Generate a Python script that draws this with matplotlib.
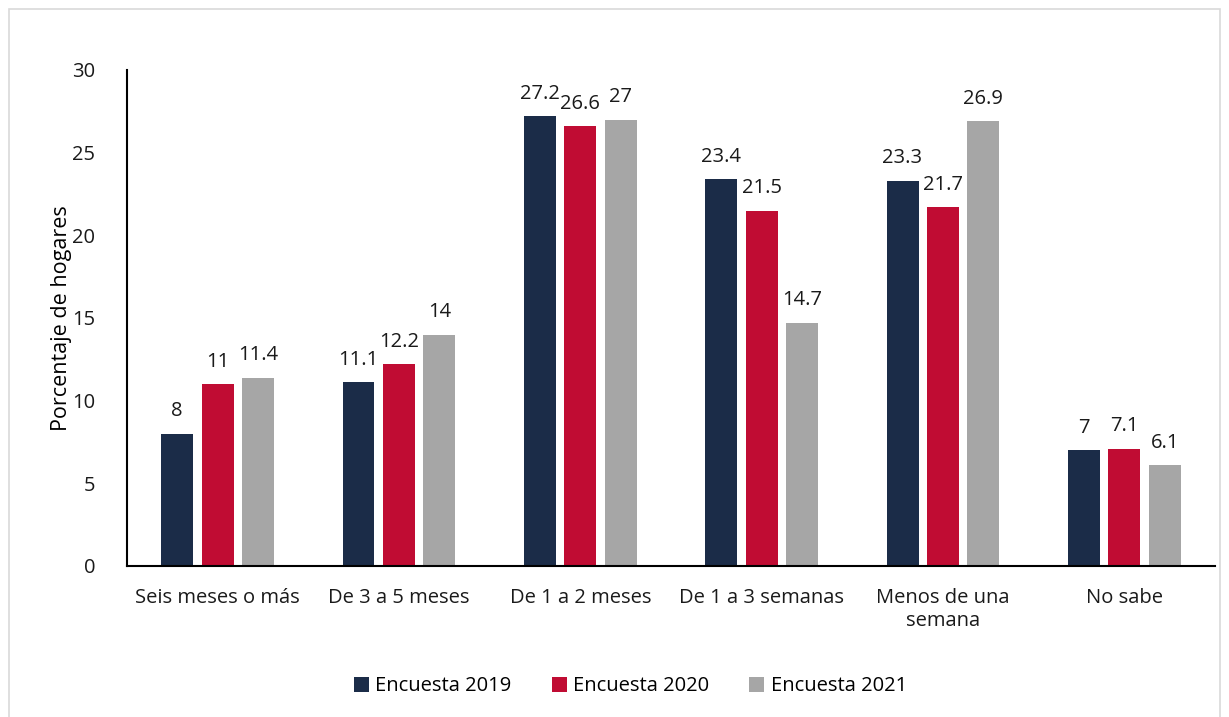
import matplotlib
matplotlib.use("Agg")
import matplotlib.pyplot as plt
from matplotlib.patches import Rectangle
import numpy as np

categorias = ["Seis meses o más", "De 3 a 5 meses", "De 1 a 2 meses",
              "De 1 a 3 semanas", "Menos de una\nsemana", "No sabe"]
encuesta_2019 = [8, 11.1, 27.2, 23.4, 23.3, 7]
encuesta_2020 = [11, 12.2, 26.6, 21.5, 21.7, 7.1]
encuesta_2021 = [11.4, 14, 27, 14.7, 26.9, 6.1]
series = ["Encuesta 2019", "Encuesta 2020", "Encuesta 2021"]
colores = ["#1b2c48", "#c00c33", "#a6a6a6"]

plt.rcParams['font.family'] = ['Open Sans', 'DejaVu Sans']

fig = plt.figure(figsize=(12.29, 7.17), dpi=100)
ax = fig.add_axes([0.1033, 0.2106, 0.8853, 0.6918])

x = np.arange(len(categorias))
paso = 0.223
ancho = 0.176
for i, (vals, nombre, col) in enumerate(zip([encuesta_2019, encuesta_2020, encuesta_2021], series, colores)):
    barras = ax.bar(x + (i - 1) * paso, vals, width=ancho, color=col, label=nombre)
    ax.bar_label(barras, labels=[f"{v:g}" for v in vals], padding=9, fontsize=14.5, color="#1a1a1a")

ax.set_xlim(-0.5, len(categorias) - 0.5)
ax.set_ylim(0, 30)
ax.set_yticks([0, 5, 10, 15, 20, 25, 30])
ax.set_xticks(x)
ax.set_xticklabels(categorias, fontsize=14.5)
ax.tick_params(axis='both', length=0, labelsize=14.5, colors="#1a1a1a")
ax.tick_params(axis='x', pad=16)
ax.tick_params(axis='y', pad=23)
ax.spines['top'].set_visible(False)
ax.spines['right'].set_visible(False)
ax.spines['left'].set_linewidth(1.5)
ax.spines['bottom'].set_linewidth(1.5)
ax.set_ylabel("Porcentaje de hogares", fontsize=15.5, labelpad=0)

fig.legend(loc='center', bbox_to_anchor=(0.513, 0.043), ncol=3, frameon=False,
           fontsize=14.5, handlelength=0.75, handleheight=0.75, handletextpad=0.3, columnspacing=2.0)

fig.patches.append(Rectangle((0.0075, -0.01), 0.985, 0.997, transform=fig.transFigure,
                             fill=False, edgecolor="#d9d9d9", linewidth=1.2))

fig.savefig("out.png", dpi=100)
